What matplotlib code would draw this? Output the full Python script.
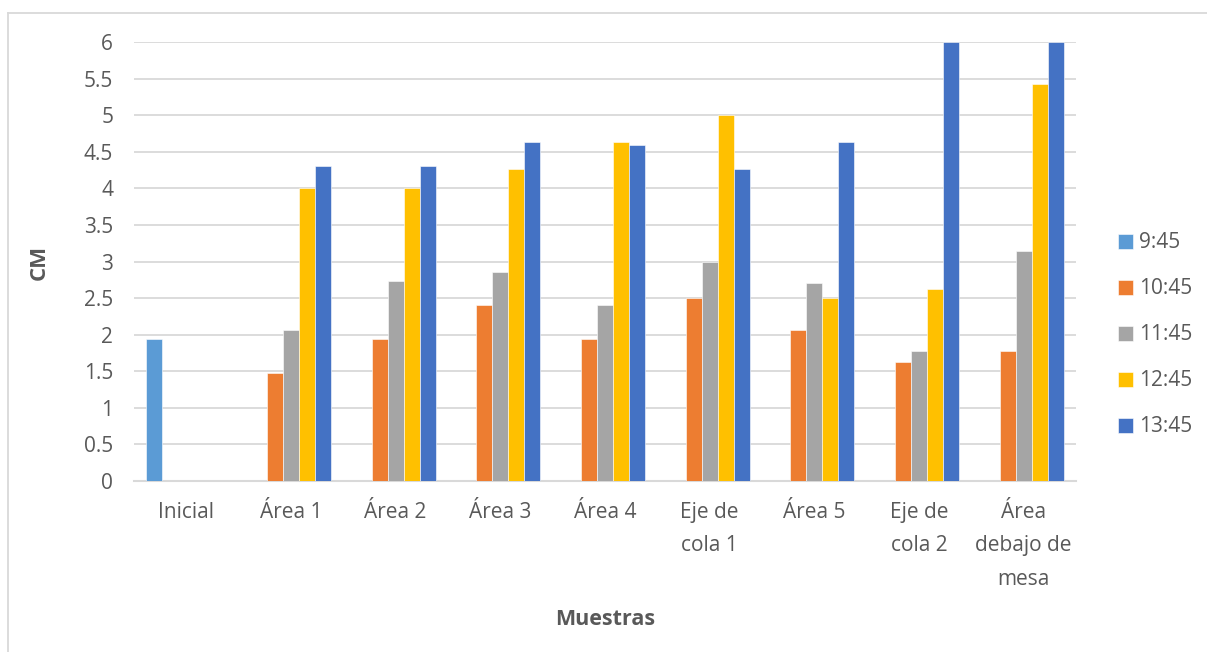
import matplotlib
matplotlib.use("Agg")
import matplotlib.pyplot as plt
import numpy as np
from matplotlib.lines import Line2D

plt.rcParams['font.family'] = ['Open Sans', 'DejaVu Sans']

categories = ["Inicial", "Área 1", "Área 2", "Área 3", "Área 4",
              "Eje de\ncola 1", "Área 5", "Eje de\ncola 2", "Área\ndebajo de\nmesa"]
series_names = ["9:45", "10:45", "11:45", "12:45", "13:45"]

v_0945 = [1.94, 0, 0, 0, 0, 0, 0, 0, 0]
v_1045 = [0, 1.47, 1.94, 2.40, 1.94, 2.50, 2.06, 1.62, 1.77]
v_1145 = [0, 2.06, 2.73, 2.86, 2.40, 3.00, 2.70, 1.77, 3.14]
v_1245 = [0, 4.00, 4.00, 4.27, 4.63, 5.00, 2.50, 2.62, 5.43]
v_1345 = [0, 4.31, 4.31, 4.63, 4.59, 4.27, 4.63, 6.00, 6.00]

y_ticks = [0, 0.5, 1, 1.5, 2, 2.5, 3, 3.5, 4, 4.5, 5, 5.5, 6]
y_tick_labels = ["0", "0.5", "1", "1.5", "2", "2.5", "3", "3.5", "4", "4.5", "5", "5.5", "6"]

colors = ["#5B9BD5", "#ED7D31", "#A5A5A5", "#FFC000", "#4472C4"]
text_color = "#595959"
grid_color = "#D9D9D9"

fig = plt.figure(figsize=(12.07, 6.52), dpi=100)
ax = fig.add_axes([134 / 1207, 1 - 481 / 652, (1076 - 134) / 1207, (481 - 42) / 652])

series = [v_0945, v_1045, v_1145, v_1245, v_1345]
x = np.arange(len(categories))
bar_w = 0.153
for i, (name, vals, c) in enumerate(zip(series_names, series, colors)):
    offs = (i - 2) * bar_w
    ax.bar(x + offs, vals, width=bar_w, color=c, label=name,
           edgecolor="white", linewidth=0.4, zorder=3)

ax.set_xlim(-0.5, len(categories) - 0.5)
ax.set_ylim(0, 6)
ax.set_yticks(y_ticks)
ax.set_yticklabels(y_tick_labels)
ax.set_xticks(x)
ax.set_xticklabels(categories, linespacing=1.78, va="top")

ax.yaxis.grid(True, color=grid_color, linewidth=1.3, zorder=0)
ax.set_axisbelow(True)
for side in ["top", "right", "left"]:
    ax.spines[side].set_visible(False)
ax.spines["bottom"].set_color(grid_color)
ax.spines["bottom"].set_linewidth(1.5)
ax.tick_params(axis="both", length=0, colors=text_color, labelsize=15)
ax.tick_params(axis="y", pad=15)
ax.tick_params(axis="x", pad=15)

ax.set_ylabel("CM", fontsize=16, fontweight="bold", color=text_color)
ax.yaxis.set_label_coords((50 - 134) / (1076 - 134), (481 - 262) / (481 - 42))
ax.set_xlabel("Muestras", fontsize=15.5, fontweight="bold", color=text_color)
ax.xaxis.set_label_coords((605 - 134) / (1076 - 134), -(609 - 481) / (481 - 42))

leg = ax.legend(loc="center left", bbox_to_anchor=(1110 / 1207, 1 - 335 / 652),
                bbox_transform=fig.transFigure, frameon=False, fontsize=15,
                handlelength=0.7, handleheight=0.7, handletextpad=0.3,
                labelspacing=1.2, borderaxespad=0)
for t in leg.get_texts():
    t.set_color(text_color)

# light frame around the chart area
fig.add_artist(Line2D([8 / 1207, 1], [1 - 12.5 / 652, 1 - 12.5 / 652],
                      transform=fig.transFigure, color="#D9D9D9", linewidth=1.3))
fig.add_artist(Line2D([8 / 1207, 8 / 1207], [0, 1 - 12.5 / 652],
                      transform=fig.transFigure, color="#D9D9D9", linewidth=1.3))

fig.savefig("out.png", dpi=100, facecolor="white")
